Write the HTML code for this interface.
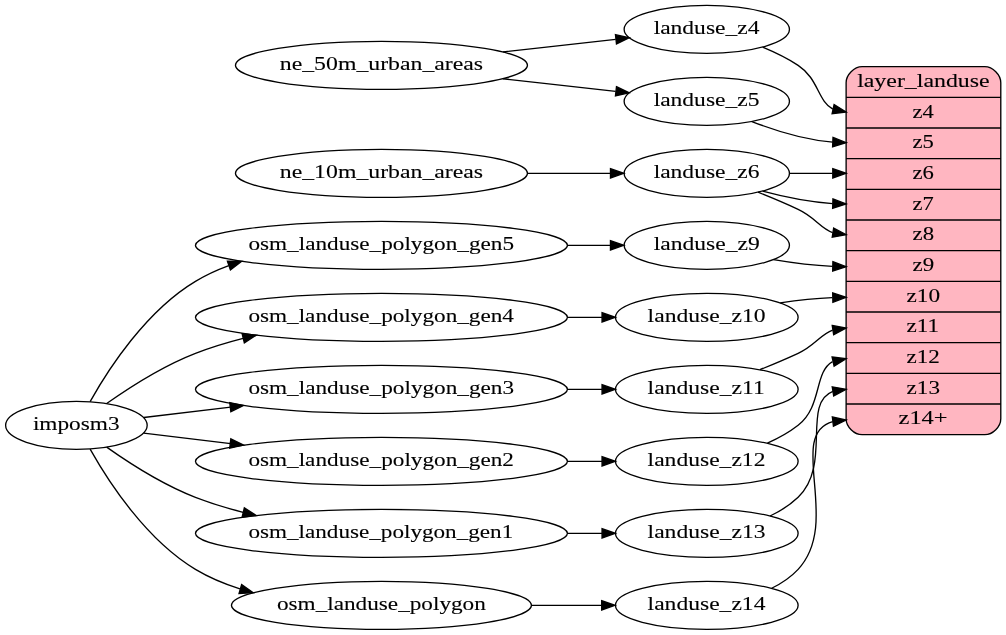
<!DOCTYPE html>
<html><head><meta charset="utf-8"><style>
html,body{margin:0;padding:0;background:#fff;}
svg{display:block;will-change:transform;}
text{font-family:"Liberation Serif",serif;font-size:14.8px;fill:#000;stroke:#000;stroke-width:0.08px;}
</style></head><body>
<svg width="1006" height="635" viewBox="0 0 754.5 476.25">
<g id="graph0" class="graph" transform="scale(1 1) rotate(0) translate(4 472)">
<polygon fill="white" stroke="none" points="-4,4 -4,-472 750.59,-472 750.59,4 -4,4"/>
<g id="node1" class="node">
<path fill="lightpink" stroke="black" d="M642.59,-146C642.59,-146 734.59,-146 734.59,-146 740.59,-146 746.59,-152 746.59,-158 746.59,-158 746.59,-410 746.59,-410 746.59,-416 740.59,-422 734.59,-422 734.59,-422 642.59,-422 642.59,-422 636.59,-422 630.59,-416 630.59,-410 630.59,-410 630.59,-158 630.59,-158 630.59,-152 636.59,-146 642.59,-146"/>
<text text-anchor="middle" x="688.57" y="-406.8" textLength="99.43" lengthAdjust="spacingAndGlyphs">layer_landuse</text>
<polyline fill="none" stroke="black" points="630.59,-399 746.59,-399 "/>
<text text-anchor="middle" x="688.42" y="-383.8" textLength="15.98" lengthAdjust="spacingAndGlyphs">z4</text>
<polyline fill="none" stroke="black" points="630.59,-376 746.59,-376 "/>
<text text-anchor="middle" x="688.43" y="-360.8" textLength="15.99" lengthAdjust="spacingAndGlyphs">z5</text>
<polyline fill="none" stroke="black" points="630.59,-353 746.59,-353 "/>
<text text-anchor="middle" x="688.45" y="-337.8" textLength="16.04" lengthAdjust="spacingAndGlyphs">z6</text>
<polyline fill="none" stroke="black" points="630.59,-330 746.59,-330 "/>
<text text-anchor="middle" x="688.38" y="-314.8" textLength="15.88" lengthAdjust="spacingAndGlyphs">z7</text>
<polyline fill="none" stroke="black" points="630.59,-307 746.59,-307 "/>
<text text-anchor="middle" x="688.49" y="-291.8" textLength="16.13" lengthAdjust="spacingAndGlyphs">z8</text>
<polyline fill="none" stroke="black" points="630.59,-284 746.59,-284 "/>
<text text-anchor="middle" x="688.52" y="-268.8" textLength="16.18" lengthAdjust="spacingAndGlyphs">z9</text>
<polyline fill="none" stroke="black" points="630.59,-261 746.59,-261 "/>
<text text-anchor="middle" x="688.50" y="-245.8" textLength="25.21" lengthAdjust="spacingAndGlyphs">z10</text>
<polyline fill="none" stroke="black" points="630.59,-238 746.59,-238 "/>
<text text-anchor="middle" x="688.15" y="-222.8" textLength="24.48" lengthAdjust="spacingAndGlyphs">z11</text>
<polyline fill="none" stroke="black" points="630.59,-215 746.59,-215 "/>
<text text-anchor="middle" x="688.42" y="-199.8" textLength="25.05" lengthAdjust="spacingAndGlyphs">z12</text>
<polyline fill="none" stroke="black" points="630.59,-192 746.59,-192 "/>
<text text-anchor="middle" x="688.45" y="-176.8" textLength="25.11" lengthAdjust="spacingAndGlyphs">z13</text>
<polyline fill="none" stroke="black" points="630.59,-169 746.59,-169 "/>
<text text-anchor="middle" x="688.32" y="-153.8" textLength="36.82" lengthAdjust="spacingAndGlyphs">z14+</text>
</g>
<g id="node2" class="node">
<ellipse fill="none" stroke="black" cx="282.09" cy="-423" rx="109.5" ry="18"/>
<text text-anchor="middle" x="282.10" y="-419.3" textLength="152.50" lengthAdjust="spacingAndGlyphs">ne_50m_urban_areas</text>
</g>
<g id="node10" class="node">
<ellipse fill="none" stroke="black" cx="526.09" cy="-450" rx="62" ry="18"/>
<text text-anchor="middle" x="525.90" y="-446.3" textLength="79.33" lengthAdjust="spacingAndGlyphs">landuse_z4</text>
</g>
<g id="edge12" class="edge">
<path fill="none" stroke="black" d="M373.2,-433.05C401.2,-436.18 431.56,-439.57 457.73,-442.48"/>
<polygon fill="black" stroke="black" points="457.59,-445.99 467.91,-443.62 458.36,-439.03 457.59,-445.99"/>
</g>
<g id="node11" class="node">
<ellipse fill="none" stroke="black" cx="526.09" cy="-396" rx="62" ry="18"/>
<text text-anchor="middle" x="525.91" y="-392.3" textLength="79.36" lengthAdjust="spacingAndGlyphs">landuse_z5</text>
</g>
<g id="edge13" class="edge">
<path fill="none" stroke="black" d="M373.2,-412.95C401.2,-409.82 431.56,-406.43 457.73,-403.52"/>
<polygon fill="black" stroke="black" points="458.36,-406.97 467.91,-402.38 457.59,-400.01 458.36,-406.97"/>
</g>
<g id="node3" class="node">
<ellipse fill="none" stroke="black" cx="282.09" cy="-342" rx="109.5" ry="18"/>
<text text-anchor="middle" x="282.10" y="-338.3" textLength="152.50" lengthAdjust="spacingAndGlyphs">ne_10m_urban_areas</text>
</g>
<g id="node12" class="node">
<ellipse fill="none" stroke="black" cx="526.09" cy="-342" rx="62" ry="18"/>
<text text-anchor="middle" x="525.93" y="-338.3" textLength="79.40" lengthAdjust="spacingAndGlyphs">landuse_z6</text>
</g>
<g id="edge14" class="edge">
<path fill="none" stroke="black" d="M391.7,-342C412.69,-342 434.17,-342 453.6,-342"/>
<polygon fill="black" stroke="black" points="453.86,-345.5 463.86,-342 453.86,-338.5 453.86,-345.5"/>
</g>
<g id="node4" class="node">
<ellipse fill="none" stroke="black" cx="282.09" cy="-288" rx="139.5" ry="18"/>
<text text-anchor="middle" x="281.90" y="-284.3" textLength="199.22" lengthAdjust="spacingAndGlyphs">osm_landuse_polygon_gen5</text>
</g>
<g id="node13" class="node">
<ellipse fill="none" stroke="black" cx="526.09" cy="-288" rx="62" ry="18"/>
<text text-anchor="middle" x="526.00" y="-284.3" textLength="79.54" lengthAdjust="spacingAndGlyphs">landuse_z9</text>
</g>
<g id="edge15" class="edge">
<path fill="none" stroke="black" d="M421.76,-288C432.77,-288 443.58,-288 453.81,-288"/>
<polygon fill="black" stroke="black" points="453.84,-291.5 463.84,-288 453.84,-284.5 453.84,-291.5"/>
</g>
<g id="node5" class="node">
<ellipse fill="none" stroke="black" cx="282.09" cy="-234" rx="139.5" ry="18"/>
<text text-anchor="middle" x="281.89" y="-230.3" textLength="199.19" lengthAdjust="spacingAndGlyphs">osm_landuse_polygon_gen4</text>
</g>
<g id="node14" class="node">
<ellipse fill="none" stroke="black" cx="526.09" cy="-234" rx="68.5" ry="18"/>
<text text-anchor="middle" x="525.98" y="-230.3" textLength="88.55" lengthAdjust="spacingAndGlyphs">landuse_z10</text>
</g>
<g id="edge16" class="edge">
<path fill="none" stroke="black" d="M421.76,-234C430.54,-234 439.2,-234 447.54,-234"/>
<polygon fill="black" stroke="black" points="447.54,-237.5 457.54,-234 447.54,-230.5 447.54,-237.5"/>
</g>
<g id="node6" class="node">
<ellipse fill="none" stroke="black" cx="282.09" cy="-180" rx="139.5" ry="18"/>
<text text-anchor="middle" x="281.92" y="-176.3" textLength="199.26" lengthAdjust="spacingAndGlyphs">osm_landuse_polygon_gen3</text>
</g>
<g id="node15" class="node">
<ellipse fill="none" stroke="black" cx="526.09" cy="-180" rx="68.5" ry="18"/>
<text text-anchor="middle" x="525.64" y="-176.3" textLength="87.86" lengthAdjust="spacingAndGlyphs">landuse_z11</text>
</g>
<g id="edge17" class="edge">
<path fill="none" stroke="black" d="M421.76,-180C430.54,-180 439.2,-180 447.54,-180"/>
<polygon fill="black" stroke="black" points="447.54,-183.5 457.54,-180 447.54,-176.5 447.54,-183.5"/>
</g>
<g id="node7" class="node">
<ellipse fill="none" stroke="black" cx="282.09" cy="-126" rx="139.5" ry="18"/>
<text text-anchor="middle" x="281.89" y="-122.3" textLength="199.20" lengthAdjust="spacingAndGlyphs">osm_landuse_polygon_gen2</text>
</g>
<g id="node16" class="node">
<ellipse fill="none" stroke="black" cx="526.09" cy="-126" rx="68.5" ry="18"/>
<text text-anchor="middle" x="525.91" y="-122.3" textLength="88.40" lengthAdjust="spacingAndGlyphs">landuse_z12</text>
</g>
<g id="edge18" class="edge">
<path fill="none" stroke="black" d="M421.76,-126C430.54,-126 439.2,-126 447.54,-126"/>
<polygon fill="black" stroke="black" points="447.54,-129.5 457.54,-126 447.54,-122.5 447.54,-129.5"/>
</g>
<g id="node8" class="node">
<ellipse fill="none" stroke="black" cx="282.09" cy="-72" rx="139.5" ry="18"/>
<text text-anchor="middle" x="281.62" y="-68.3" textLength="198.65" lengthAdjust="spacingAndGlyphs">osm_landuse_polygon_gen1</text>
</g>
<g id="node17" class="node">
<ellipse fill="none" stroke="black" cx="526.09" cy="-72" rx="68.5" ry="18"/>
<text text-anchor="middle" x="525.94" y="-68.3" textLength="88.46" lengthAdjust="spacingAndGlyphs">landuse_z13</text>
</g>
<g id="edge19" class="edge">
<path fill="none" stroke="black" d="M421.76,-72C430.54,-72 439.2,-72 447.54,-72"/>
<polygon fill="black" stroke="black" points="447.54,-75.5 457.54,-72 447.54,-68.5 447.54,-75.5"/>
</g>
<g id="node9" class="node">
<ellipse fill="none" stroke="black" cx="282.09" cy="-18" rx="112.5" ry="18"/>
<text text-anchor="middle" x="282.05" y="-14.3" textLength="156.65" lengthAdjust="spacingAndGlyphs">osm_landuse_polygon</text>
</g>
<g id="node18" class="node">
<ellipse fill="none" stroke="black" cx="526.09" cy="-18" rx="68.5" ry="18"/>
<text text-anchor="middle" x="525.90" y="-14.3" textLength="88.38" lengthAdjust="spacingAndGlyphs">landuse_z14</text>
</g>
<g id="edge20" class="edge">
<path fill="none" stroke="black" d="M394.88,-18C412.52,-18 430.42,-18 447.08,-18"/>
<polygon fill="black" stroke="black" points="447.27,-21.5 457.27,-18 447.27,-14.5 447.27,-21.5"/>
</g>
<g id="edge1" class="edge">
<path fill="none" stroke="black" d="M567.99,-436.62C577.09,-432.84 586.44,-428.29 594.59,-423 609.8,-413.13 609.33,-396.19 620.59,-390.19"/>
<polygon fill="black" stroke="black" points="621.57,-393.56 630.59,-388 620.07,-386.72 621.57,-393.56"/>
</g>
<g id="edge2" class="edge">
<path fill="none" stroke="black" d="M559.91,-380.86C577.16,-374.07 599.13,-367.18 620.5,-365.43"/>
<polygon fill="black" stroke="black" points="620.75,-368.92 630.59,-365 620.45,-361.93 620.75,-368.92"/>
</g>
<g id="edge3" class="edge">
<path fill="none" stroke="black" d="M588.11,-342C598.69,-342 609.74,-342 620.45,-342"/>
<polygon fill="black" stroke="black" points="620.59,-345.5 630.59,-342 620.59,-338.5 620.59,-345.5"/>
</g>
<g id="edge4" class="edge">
<path fill="none" stroke="black" d="M567.93,-328.62C583.77,-324.37 602.4,-320.47 620.39,-319.33"/>
<polygon fill="black" stroke="black" points="620.71,-322.83 630.59,-319 620.48,-315.83 620.71,-322.83"/>
</g>
<g id="edge5" class="edge">
<path fill="none" stroke="black" d="M564.53,-327.84C574.39,-323.89 584.97,-319.45 594.59,-315 607.29,-309.13 611.06,-300.97 620.48,-297.58"/>
<polygon fill="black" stroke="black" points="621.25,-301 630.59,-296 620.17,-294.09 621.25,-301"/>
</g>
<g id="edge6" class="edge">
<path fill="none" stroke="black" d="M576.08,-277.28C590.01,-274.92 605.47,-272.91 620.38,-272.24"/>
<polygon fill="black" stroke="black" points="620.67,-275.73 630.59,-272 620.51,-268.73 620.67,-275.73"/>
</g>
<g id="edge7" class="edge">
<path fill="none" stroke="black" d="M581.13,-244.82C593.65,-246.69 607.15,-248.21 620.22,-248.77"/>
<polygon fill="black" stroke="black" points="620.52,-252.28 630.59,-249 620.67,-245.28 620.52,-252.28"/>
</g>
<g id="edge8" class="edge">
<path fill="none" stroke="black" d="M565.94,-194.73C575.4,-198.54 585.43,-202.76 594.59,-207 607.29,-212.87 611.06,-221.03 620.48,-224.42"/>
<polygon fill="black" stroke="black" points="620.17,-227.91 630.59,-226 621.25,-221 620.17,-227.91"/>
</g>
<g id="edge9" class="edge">
<path fill="none" stroke="black" d="M571.54,-139.59C579.66,-143.2 587.73,-147.64 594.59,-153 612.79,-167.23 606.41,-193.04 620.42,-200.76"/>
<polygon fill="black" stroke="black" points="620.07,-204.27 630.59,-203 621.58,-197.43 620.07,-204.27"/>
</g>
<g id="edge10" class="edge">
<path fill="none" stroke="black" d="M573.53,-84.99C581.2,-88.63 588.59,-93.22 594.59,-99 620.09,-123.55 597.03,-169.37 620.65,-178.42"/>
<polygon fill="black" stroke="black" points="620.17,-181.89 630.59,-180 621.26,-174.98 620.17,-181.89"/>
</g>
<g id="edge11" class="edge">
<path fill="none" stroke="black" d="M574.75,-30.81C582.11,-34.45 589.08,-39.09 594.59,-45 627.61,-80.4 585.53,-146.25 620.59,-155.83"/>
<polygon fill="black" stroke="black" points="620.25,-159.31 630.59,-157 621.07,-152.36 620.25,-159.31"/>
</g>
<g id="node19" class="node">
<ellipse fill="none" stroke="black" cx="53.3" cy="-153" rx="53.09" ry="18"/>
<text text-anchor="middle" x="53.19" y="-149.3" textLength="65.02" lengthAdjust="spacingAndGlyphs">imposm3</text>
</g>
<g id="edge21" class="edge">
<path fill="none" stroke="black" d="M63.59,-170.81C77.36,-195.3 105.59,-238.87 142.59,-261 150.39,-265.66 158.83,-269.54 167.57,-272.77"/>
<polygon fill="black" stroke="black" points="166.56,-276.12 177.16,-276.01 168.81,-269.49 166.56,-276.12"/>
</g>
<g id="edge22" class="edge">
<path fill="none" stroke="black" d="M76,-169.33C93.2,-181.49 118.31,-197.56 142.59,-207 153.94,-211.41 166.11,-215.13 178.34,-218.25"/>
<polygon fill="black" stroke="black" points="177.61,-221.68 188.15,-220.63 179.26,-214.87 177.61,-221.68"/>
</g>
<g id="edge23" class="edge">
<path fill="none" stroke="black" d="M103.79,-158.89C122.97,-161.18 145.79,-163.89 168.55,-166.6"/>
<polygon fill="black" stroke="black" points="168.3,-170.1 178.64,-167.8 169.13,-163.15 168.3,-170.1"/>
</g>
<g id="edge24" class="edge">
<path fill="none" stroke="black" d="M103.79,-147.11C122.97,-144.82 145.79,-142.11 168.55,-139.4"/>
<polygon fill="black" stroke="black" points="169.13,-142.85 178.64,-138.2 168.3,-135.9 169.13,-142.85"/>
</g>
<g id="edge25" class="edge">
<path fill="none" stroke="black" d="M76,-136.67C93.2,-124.51 118.31,-108.44 142.59,-99 153.94,-94.59 166.11,-90.87 178.34,-87.75"/>
<polygon fill="black" stroke="black" points="179.26,-91.13 188.15,-85.37 177.61,-84.32 179.26,-91.13"/>
</g>
<g id="edge26" class="edge">
<path fill="none" stroke="black" d="M63.59,-135.19C77.36,-110.7 105.59,-67.13 142.59,-45 152.86,-38.86 164.24,-34.08 175.95,-30.37"/>
<polygon fill="black" stroke="black" points="177.22,-33.64 185.85,-27.49 175.27,-26.92 177.22,-33.64"/>
</g>
</g>

</svg>
</body></html>
